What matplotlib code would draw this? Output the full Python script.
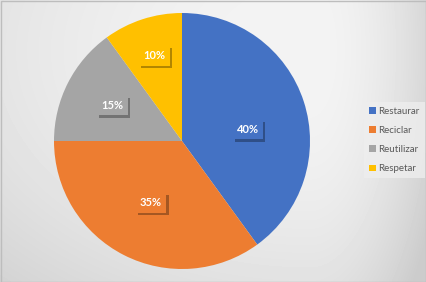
import numpy as np
import matplotlib
matplotlib.use("Agg")
import matplotlib.pyplot as plt
import matplotlib.patheffects as pe
from matplotlib.patches import Rectangle

# data
categories = ["Restaurar", "Reciclar", "Reutilizar", "Respetar"]
shares = [40, 35, 15, 10]
colors = ["#4472C4", "#ED7D31", "#A5A5A5", "#FFC000"]

plt.rcParams['font.family'] = ['Lato', 'DejaVu Sans']

W, H = 427, 282
fig = plt.figure(figsize=(W / 100, H / 100), dpi=100)

# soft gray gradient behind everything, lightest near the top right
bg = fig.add_axes([0, 0, 1, 1])
yy, xx = np.mgrid[0:H, 0:W]
sx = np.where(xx < 310, 480.0, 130.0)
d2 = ((xx - 310) / sx) ** 2 + ((yy - 50) / 330.0) ** 2
shade = np.clip(0.955 - 0.14 * d2, 0.8, 1)
bg.imshow(shade, cmap='gray', vmin=0, vmax=1, extent=[0, W, H, 0], aspect='auto')
bg.add_patch(Rectangle((0.5, 0.5), W - 1, H - 1, fill=False, ec='#bdbdbd', lw=1))
bg.set_xlim(0, W)
bg.set_ylim(H, 0)
bg.set_axis_off()

ax = fig.add_axes([54 / W, 13 / H, 256 / W, 256 / H])
wedges, texts, autotexts = ax.pie(
    shares, colors=colors, startangle=90, counterclock=False,
    autopct='%1.0f%%', pctdistance=0.6, radius=1.0,
    textprops=dict(color='white', fontsize=8, fontweight='bold'))
ax.set_xlim(-1, 1)
ax.set_ylim(-1, 1)
ax.set_aspect('equal')

# Excel places the big slice label a bit below its mid angle
label_place = {0: (0.52, 10), 1: (0.54, None), 2: (0.61, None), 3: (0.70, None)}
for i, (w, t) in enumerate(zip(wedges, autotexts)):
    r, ang = label_place[i]
    if ang is None:
        ang = (w.theta1 + w.theta2) / 2
    t.set_position((r * np.cos(np.radians(ang)), r * np.sin(np.radians(ang))))
    t.set_bbox(dict(boxstyle='square,pad=0.4', fc=colors[i], ec='none'))
    t.get_bbox_patch().set_path_effects([
        pe.SimplePatchShadow(offset=(1.8, -1.8), shadow_rgbFace='black', alpha=0.3),
        pe.Normal()])

leg = fig.legend(wedges, categories, loc='center left', bbox_to_anchor=(359 / W, 142 / H),
                 frameon=True, fontsize=7, labelcolor='#595959',
                 handlelength=0.7, handleheight=0.7, handletextpad=0.3,
                 labelspacing=1.05, borderpad=0.5, fancybox=False)
leg.get_frame().set_facecolor('#eeeeee')
leg.get_frame().set_edgecolor('none')
leg.get_frame().set_alpha(0.8)

fig.savefig("out.png", dpi=100)
